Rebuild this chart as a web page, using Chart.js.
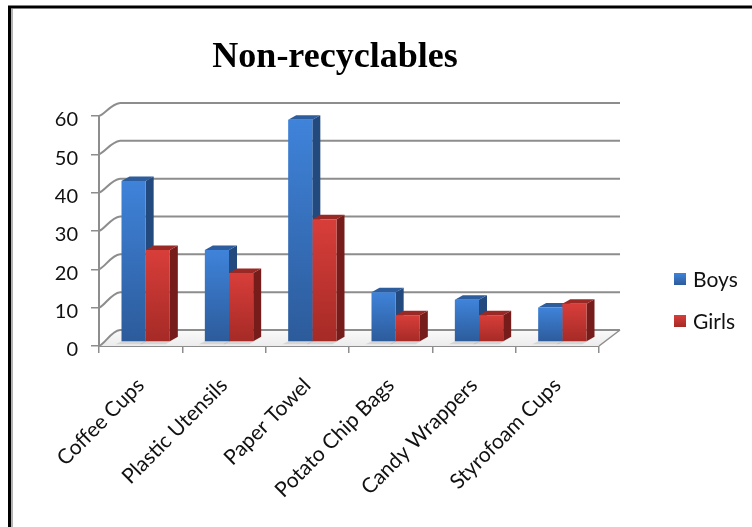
<!DOCTYPE html>
<html>
<head>
<meta charset="utf-8">
<script src="https://cdn.jsdelivr.net/npm/chart.js@4.4.1/dist/chart.umd.min.js"></script>
<style>
  html, body { margin: 0; padding: 0; background: #fff; }
  #wrap { width: 752px; height: 527px; position: relative; }
</style>
</head>
<body>
<div id="wrap"><canvas id="c" width="752" height="527"></canvas></div>
<script>
// Survey counts of non-recyclable items, by group
const categories = ['Coffee Cups', 'Plastic Utensils', 'Paper Towel', 'Potato Chip Bags', 'Candy Wrappers', 'Styrofoam Cups'];
const boys = [42, 24, 58, 13, 11, 9];
const girls = [24, 18, 32, 7, 7, 10];
const yTicks = [0, 10, 20, 30, 40, 50, 60];
const seriesNames = ['Boys', 'Girls'];
const chartTitle = 'Non-recyclables';

// Shading for the pseudo-3D columns
const shades = {
  Boys:  { light: '#3f83da', dark: '#2c5b9a', side: '#234a7e', top: '#2d5d9c', key: '#3670bd' },
  Girls: { light: '#d83e3a', dark: '#a52a26', side: '#761d1b', top: '#9a2824', key: '#c53733' }
};

// Depth vectors for the wall/floor and for the columns
const WALL = { dx: 21, dyTop: -13, dyBottom: -16 };
const BAR_SHIFT = { dx: 5, dy: -4 };
const BAR_DEPTH = { dx: 8, dy: -4.5 };
const GRID_COLOR = '#8d8d8d';
const LABEL_FONT = 'Lato';

function frontGradient(ctx, name) {
  const chart = ctx.chart;
  const s = shades[name];
  const ys = chart.scales && chart.scales.y;
  if (!chart.chartArea || !ys || ctx.raw == null) return s.light;
  const yTop = ys.getPixelForValue(ctx.raw);
  const yBot = ys.getPixelForValue(0);
  const g = chart.ctx.createLinearGradient(0, yTop, 0, yBot);
  g.addColorStop(0, s.light);
  g.addColorStop(1, s.dark);
  return g;
}

const scene3d = {
  id: 'scene3d',
  beforeDraw(chart) {
    const ctx = chart.ctx;
    ctx.save();
    ctx.fillStyle = '#ffffff';
    ctx.fillRect(0, 0, chart.width, chart.height);
    // frame
    ctx.strokeStyle = '#000';
    ctx.lineWidth = 3;
    ctx.strokeRect(9.5, 7, chart.width + 20, chart.height + 20);
    ctx.strokeStyle = '#9a9a9a';
    ctx.lineWidth = 1.5;
    ctx.beginPath(); ctx.moveTo(12, 9); ctx.lineTo(12, chart.height); ctx.stroke();
    ctx.restore();

    // shift value labels slightly down, as in a tilted 3D view
    const ys = chart.scales.y;
    if (ys && !ys._shifted) {
      const orig = ys.drawLabels.bind(ys);
      ys.drawLabels = function (area) {
        const c = this.ctx; c.save(); c.translate(0, 4); orig(area); c.restore();
      };
      ys._shifted = true;
    }
  },
  beforeDatasetsDraw(chart) {
    const ctx = chart.ctx;
    const a = chart.chartArea;
    const ys = chart.scales.y;
    const max = ys.max;
    const dyAt = v => WALL.dyBottom + (WALL.dyTop - WALL.dyBottom) * (v / max);

    ctx.save();
    // floor
    const y0 = ys.getPixelForValue(0);
    const dy0 = dyAt(0);
    ctx.beginPath();
    ctx.moveTo(a.left, y0);
    ctx.lineTo(a.right, y0);
    ctx.lineTo(a.right + WALL.dx, y0 + dy0);
    ctx.lineTo(a.left + WALL.dx, y0 + dy0);
    ctx.closePath();
    const fg = ctx.createLinearGradient(0, y0 + dy0, 0, y0);
    fg.addColorStop(0, '#fafafa');
    fg.addColorStop(1, '#ececec');
    ctx.fillStyle = fg;
    ctx.fill();
    ctx.strokeStyle = GRID_COLOR;
    ctx.lineWidth = 1.5;
    ctx.beginPath();
    ctx.moveTo(a.right, y0);
    ctx.lineTo(a.right + WALL.dx, y0 + dy0);
    ctx.stroke();

    // back wall gridlines and side-wall connectors
    ctx.lineWidth = 2;
    yTicks.forEach(v => {
      const yf = ys.getPixelForValue(v);
      const yb = yf + dyAt(v);
      ctx.beginPath();
      ctx.moveTo(a.left + WALL.dx, yb);
      ctx.lineTo(a.right + WALL.dx, yb);
      ctx.stroke();
      ctx.beginPath();
      ctx.moveTo(a.left, yf);
      ctx.bezierCurveTo(a.left + 6, yf - 2, a.left + WALL.dx - 9, yb + 1, a.left + WALL.dx, yb);
      ctx.stroke();
    });

    // floor shadows, column sides and tops
    chart.data.datasets.forEach((ds, di) => {
      const meta = chart.getDatasetMeta(di);
      const s = shades[ds.label];
      meta.data.forEach(bar => {
        const p = bar.getProps(['x', 'y', 'base', 'width'], true);
        const l = p.x - p.width / 2 + BAR_SHIFT.dx;
        const r = p.x + p.width / 2 + BAR_SHIFT.dx;
        const t = p.y + BAR_SHIFT.dy;
        const b = p.base + BAR_SHIFT.dy;
        // soft shadow on the floor
        ctx.fillStyle = 'rgba(0,0,0,0.10)';
        ctx.beginPath();
        ctx.moveTo(l - 6, b + 3);
        ctx.lineTo(r - 4, b + 3);
        ctx.lineTo(r + BAR_DEPTH.dx, b + BAR_DEPTH.dy);
        ctx.lineTo(l, b);
        ctx.closePath();
        ctx.fill();
        // right side
        ctx.fillStyle = s.side;
        ctx.beginPath();
        ctx.moveTo(r, t);
        ctx.lineTo(r + BAR_DEPTH.dx, t + BAR_DEPTH.dy);
        ctx.lineTo(r + BAR_DEPTH.dx, b + BAR_DEPTH.dy);
        ctx.lineTo(r, b);
        ctx.closePath();
        ctx.fill();
        // top
        ctx.fillStyle = s.top;
        ctx.beginPath();
        ctx.moveTo(l, t);
        ctx.lineTo(l + BAR_DEPTH.dx, t + BAR_DEPTH.dy);
        ctx.lineTo(r + BAR_DEPTH.dx, t + BAR_DEPTH.dy);
        ctx.lineTo(r, t);
        ctx.closePath();
        ctx.fill();
      });
    });
    ctx.restore();

    // front faces are drawn by Chart.js, pushed back into the depth
    ctx.save();
    ctx.translate(BAR_SHIFT.dx, BAR_SHIFT.dy);
  },
  afterDatasetsDraw(chart) {
    chart.ctx.restore();
  },
  afterDraw(chart) {
    const ctx = chart.ctx;
    ctx.save();
    // title
    ctx.fillStyle = '#000';
    ctx.font = 'bold 36px "Liberation Serif", "Times New Roman", serif';
    ctx.textAlign = 'center';
    ctx.textBaseline = 'alphabetic';
    ctx.fillText(chartTitle, 335, 67);
    // legend
    ctx.font = '21px ' + LABEL_FONT;
    ctx.textAlign = 'left';
    ctx.textBaseline = 'middle';
    chart.data.datasets.forEach((ds, i) => {
      const cy = 279 + i * 42;
      const s = shades[ds.label];
      const g = ctx.createLinearGradient(0, cy - 6, 0, cy + 6);
      g.addColorStop(0, s.light);
      g.addColorStop(1, s.dark);
      ctx.fillStyle = g;
      ctx.fillRect(674, cy - 6, 12, 12);
      ctx.fillStyle = '#111';
      ctx.fillText(ds.label, 693, cy + 1);
    });
    ctx.restore();
  }
};

function build() {
  new Chart(document.getElementById('c'), {
    type: 'bar',
    data: {
      labels: categories,
      datasets: [
        { label: seriesNames[0], data: boys, backgroundColor: c => frontGradient(c, 'Boys'), borderWidth: 0 },
        { label: seriesNames[1], data: girls, backgroundColor: c => frontGradient(c, 'Girls'), borderWidth: 0 }
      ]
    },
    options: {
      responsive: false,
      animation: false,
      devicePixelRatio: 1,
      layout: { padding: { left: 20, right: 153, top: 116, bottom: 0 } },
      plugins: { legend: { display: false }, title: { display: false }, tooltip: { enabled: false } },
      datasets: { bar: { categoryPercentage: 0.58, barPercentage: 1.0 } },
      scales: {
        x: {
          grid: { drawOnChartArea: false, offset: true, tickLength: 7, color: GRID_COLOR, lineWidth: 1.5 },
          border: { color: GRID_COLOR, width: 2 },
          ticks: { minRotation: 45, maxRotation: 45, autoSkip: false, padding: 20, color: '#111',
                   font: { family: LABEL_FONT, size: 21 } },
          afterFit: s => { s.height = 181; }
        },
        y: {
          min: 0, max: 60,
          afterBuildTicks: s => { s.ticks = yTicks.map(v => ({ value: v })); },
          grid: { drawOnChartArea: false, tickLength: 8, color: GRID_COLOR, lineWidth: 1.5 },
          border: { color: GRID_COLOR, width: 2 },
          ticks: { padding: 13, color: '#111', font: { family: LABEL_FONT, size: 20 } },
          afterFit: s => { s.width = 79; }
        }
      }
    },
    plugins: [scene3d]
  });
}

if (document.fonts && document.fonts.load) {
  Promise.all([
    document.fonts.load('21px Lato'),
    document.fonts.load('bold 36px "Liberation Serif"')
  ]).then(build, build);
} else {
  build();
}
</script>
</body>
</html>
